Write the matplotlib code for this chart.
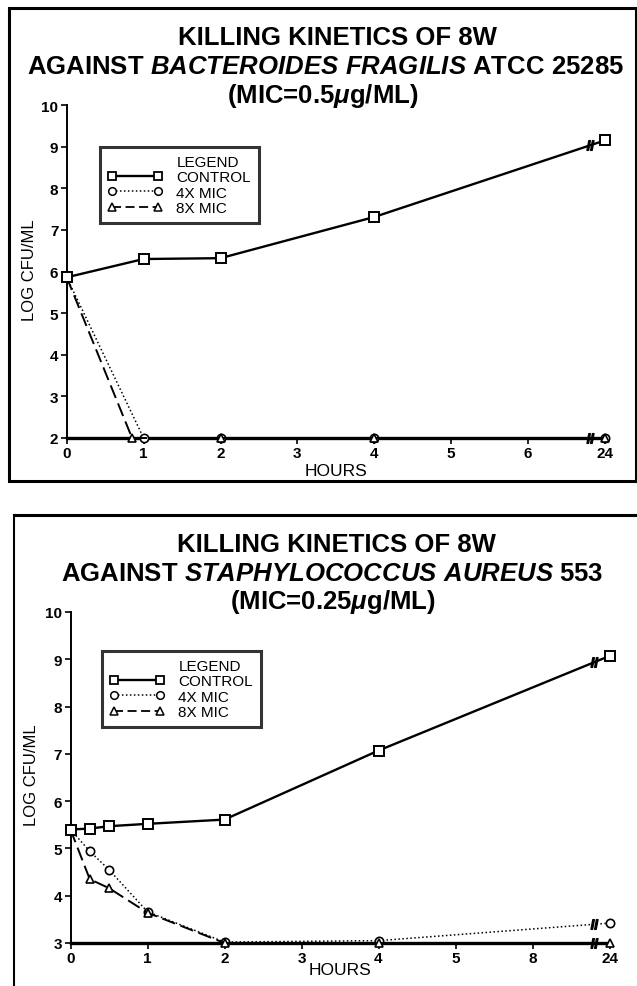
import numpy as np
import matplotlib.pyplot as plt
from matplotlib.lines import Line2D

plt.rcParams['font.family'] = 'Liberation Sans'
plt.rcParams['mathtext.fontset'] = 'custom'
plt.rcParams['mathtext.rm'] = 'Liberation Sans:bold'
plt.rcParams['mathtext.bf'] = 'Liberation Sans:bold'
plt.rcParams['mathtext.it'] = 'Liberation Sans:italic:bold'

# axe des x : 24 h placé à la position 7, après la coupure
tick_pos = [0, 1, 2, 3, 4, 5, 6, 7]
ticks_top = ['0', '1', '2', '3', '4', '5', '6', '24']
ticks_bot = ['0', '1', '2', '3', '4', '5', '8', '24']
break_pos = 6.8

# Bacteroides fragilis ATCC 25285
hours_bf = [0, 1, 2, 4, 7]
control_bf = [5.86, 6.30, 6.32, 7.31, 9.15]
mic4_bf = [5.86, 2.0, 2.0, 2.0, 2.0]
hours_bf8 = [0, 0.85, 2, 4, 7]
mic8_bf = [5.86, 2.0, 2.0, 2.0, 2.0]

# Staphylococcus aureus 553
hours_sa = [0, 0.25, 0.5, 1, 2, 4, 7]
control_sa = [5.40, 5.42, 5.47, 5.52, 5.61, 7.07, 9.07]
mic4_sa = [5.40, 4.94, 4.55, 3.66, 3.02, 3.05, 3.42]
mic8_sa = [5.40, 4.35, 4.16, 3.64, 3.00, 3.00, 3.00]

W, H = 637, 987


def fx(px):
    return px / W


def fy(py):
    return 1 - py / H


fig = plt.figure(figsize=(W / 100, H / 100), dpi=100)

# cadres des deux panneaux
fig.add_artist(plt.Rectangle((fx(9), fy(482)), fx(636) - fx(9), fy(9) - fy(482),
                             transform=fig.transFigure, fill=False, lw=2.2, color='black'))
fig.add_artist(Line2D([fx(14), fx(14)], [fy(516), fy(987)], transform=fig.transFigure,
                      color='black', lw=1.5))
fig.add_artist(Line2D([fx(14), fx(637)], [fy(516), fy(516)], transform=fig.transFigure,
                      color='black', lw=2.2))


def panel(rect, titles, title_y, title_x, labels, x_ctrl, y_ctrl, x4, y4, x8, y8,
          ymin, leg_xy, ylab_xy, xlab_xy):
    left, top, right, bottom = rect
    ax = fig.add_axes([fx(left), fy(bottom), fx(right) - fx(left), fy(top) - fy(bottom)])

    ax.plot(x4, y4, color='black', lw=1.1, ls=(0, (1, 1.6)), marker='o', ms=6,
            mfc='white', mec='black', mew=1.2, clip_on=False, zorder=3)
    ax.plot(x8, y8, color='black', lw=1.4, ls=(0, (7, 3)), marker='^', ms=6,
            mfc='white', mec='black', mew=1.2, clip_on=False, zorder=3)
    ax.plot(x_ctrl, y_ctrl, color='black', lw=1.7, marker='s', ms=6.5,
            mfc='white', mec='black', mew=1.4, clip_on=False, zorder=4)

    # marques de coupure
    ys = {ymin, float(np.interp(break_pos, x_ctrl, y_ctrl)),
          float(np.interp(break_pos, x4, y4))}
    for yb in ys:
        ax.plot([break_pos], [yb], marker='$//$', ms=7, color='black',
                clip_on=False, zorder=5)

    ax.set_xlim(0, 7)
    ax.set_ylim(ymin, 10)
    ax.set_xticks(tick_pos)
    ax.set_xticklabels(labels)
    ax.set_yticks(range(ymin, 11))
    for s in ['top', 'right']:
        ax.spines[s].set_visible(False)
    ax.spines['left'].set_linewidth(1.4)
    ax.spines['bottom'].set_linewidth(2.4)
    ax.tick_params(direction='out', length=4, width=1.2, pad=2,
                   labelsize=11)
    for t in ax.get_xticklabels() + ax.get_yticklabels():
        t.set_fontweight('bold')
    ax.patch.set_alpha(0)

    fig.text(fx(ylab_xy[0]), fy(ylab_xy[1]), 'LOG CFU/ML', rotation=90,
             ha='center', va='center', fontsize=12)
    fig.text(fx(xlab_xy[0]), fy(xlab_xy[1]), 'HOURS', ha='center', va='center',
             fontsize=12.5)

    for t, yy, xx in zip(titles, title_y, title_x):
        fig.text(fx(xx), fy(yy), t, ha='center', va='center', fontsize=18.5,
                 fontweight='bold')

    handles = [Line2D([], [], ls='none'),
               Line2D([], [], color='black', lw=1.7, marker='s', ms=6,
                      mfc='white', mec='black', mew=1.3),
               Line2D([], [], color='black', lw=1.1, ls=(0, (1, 1.6)), marker='o',
                      ms=5.5, mfc='white', mec='black', mew=1.1),
               Line2D([], [], color='black', lw=1.3, ls=(0, (5, 2.5)), marker='^',
                      ms=5.5, mfc='white', mec='black', mew=1.1)]
    names = ['LEGEND', 'CONTROL', '4X MIC', '8X MIC']
    leg = ax.legend(handles, names, loc='upper left', numpoints=2,
                    bbox_to_anchor=(fx(leg_xy[0]), fy(leg_xy[1])),
                    bbox_transform=fig.transFigure, fontsize=11, frameon=True,
                    fancybox=False, handlelength=3.6, handletextpad=0.9,
                    labelspacing=0.1, borderpad=0.5, borderaxespad=0)
    leg.get_frame().set_edgecolor('black')
    leg.get_frame().set_linewidth(2.2)
    return ax


panel((66.7, 106, 605, 439),
      ['KILLING KINETICS OF 8W',
       r'AGAINST $\mathit{BACTEROIDES\ FRAGILIS}$ ATCC 25285',
       r'(MIC=0.5$\mu$g/ML)'],
      [38, 67, 96], [337, 325, 323], ticks_top,
      hours_bf, control_bf, hours_bf, mic4_bf, hours_bf8, mic8_bf,
      2, (100, 148), (30, 270), (336, 471))

panel((70.5, 613, 609.5, 944),
      ['KILLING KINETICS OF 8W',
       r'AGAINST $\mathit{STAPHYLOCOCCUS\ AUREUS}$ 553',
       r'(MIC=0.25$\mu$g/ML)'],
      [545, 574, 602], [336, 332, 333], ticks_bot,
      hours_sa, control_sa, hours_sa, mic4_sa, hours_sa, mic8_sa,
      3, (102, 652), (32, 775), (340, 971))

fig.savefig('out.png', dpi=100)
